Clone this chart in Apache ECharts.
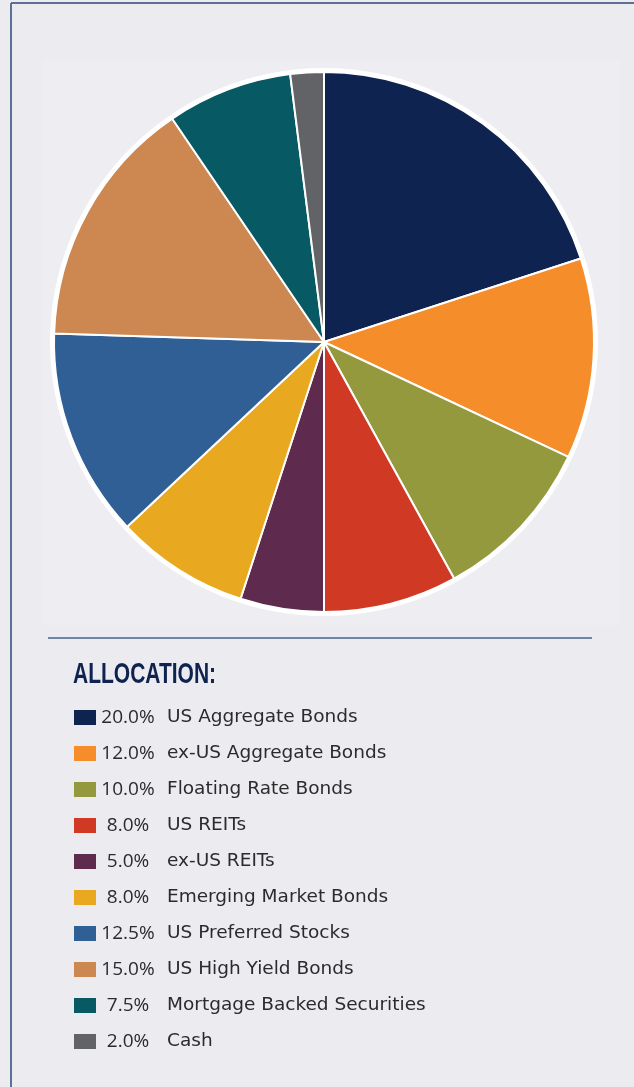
<!DOCTYPE html>
<html>
<head>
<meta charset="utf-8">
<style>
  html, body { margin: 0; padding: 0; background: #ecebf0; }
  #chart { width: 634px; height: 1087px; }
</style>
<script src="https://cdn.jsdelivr.net/npm/echarts@6/dist/echarts.min.js"></script>
</head>
<body>
<div id="chart"></div>
<script>
// Portfolio allocation, clockwise from 12 o'clock
const categories = [
  'US Aggregate Bonds',
  'ex-US Aggregate Bonds',
  'Floating Rate Bonds',
  'US REITs',
  'ex-US REITs',
  'Emerging Market Bonds',
  'US Preferred Stocks',
  'US High Yield Bonds',
  'Mortgage Backed Securities',
  'Cash'
];
const weights = [20.0, 12.0, 10.0, 8.0, 5.0, 8.0, 12.5, 15.0, 7.5, 2.0];
const sliceColors = [
  '#0f2350', '#f58d2a', '#95993e', '#d03a25', '#5e2a4d',
  '#e8a820', '#2f5f95', '#cd8751', '#075a63', '#616367'
];
const titleText = 'ALLOCATION:';

const chart = echarts.init(document.getElementById('chart'), null, { renderer: 'canvas' });

const weightByName = {};
categories.forEach((c, i) => { weightByName[c] = weights[i]; });

const pctFont = '"Open Sans", Lato, sans-serif';
const nameFont = '"DejaVu Sans", "Open Sans", sans-serif';
const textColor = '#2b2b2b';

chart.setOption({
  backgroundColor: '#ecebf0',
  animation: false,
  legend: {
    orient: 'vertical',
    left: 74,
    top: 708,
    height: 400,
    padding: 0,
    itemWidth: 22,
    itemHeight: 15,
    itemGap: 17,
    icon: 'rect',
    itemStyle: { borderWidth: 0 },
    selectedMode: false,
    data: categories,
    formatter: name => '{p|' + weightByName[name].toFixed(1) + '%}{n|' + name + '}',
    textStyle: {
      fontFamily: pctFont,
      fontSize: 19,
      color: textColor,
      lineHeight: 19,
      rich: {
        p: { width: 54, align: 'right', fontFamily: pctFont, fontSize: 19, color: textColor, lineHeight: 19 },
        n: { padding: [0, 0, 0, 12], fontFamily: nameFont, fontSize: 18.5, color: textColor, lineHeight: 19 }
      }
    }
  },
  graphic: [
    // outer frame edges
    { type: 'line', shape: { x1: 11, y1: 3, x2: 634, y2: 3 }, style: { stroke: '#5b7198', lineWidth: 2 } },
    { type: 'line', shape: { x1: 11, y1: 3, x2: 11, y2: 1087 }, style: { stroke: '#5b7198', lineWidth: 2 } },
    // soft panel behind the pie
    { type: 'rect', shape: { x: 42, y: 60, width: 578, height: 565 }, style: { fill: '#eeedf2' }, z: -1 },
    // white rim around the pie
    { type: 'circle', shape: { cx: 324, cy: 342, r: 274 }, style: { fill: '#ffffff' }, z: 0 },
    // divider above the allocation list
    { type: 'line', shape: { x1: 48, y1: 638, x2: 592, y2: 638 }, style: { stroke: '#7084a5', lineWidth: 2 } },
    // section heading, squeezed horizontally to a condensed look
    {
      type: 'text',
      x: 73,
      y: 660,
      scaleX: 0.7,
      style: {
        text: titleText,
        fontFamily: '"Liberation Sans", Arial, sans-serif',
        fontWeight: 'bold',
        fontSize: 30,
        fill: '#0f2350',
        verticalAlign: 'top'
      }
    }
  ],
  series: [{
    type: 'pie',
    center: [324, 342],
    radius: [0, 270],
    startAngle: 90,
    clockwise: true,
    label: { show: false },
    labelLine: { show: false },
    emphasis: { disabled: true },
    itemStyle: { borderColor: '#ffffff', borderWidth: 2 },
    data: categories.map((c, i) => ({
      name: c,
      value: weights[i],
      itemStyle: { color: sliceColors[i] }
    }))
  }]
});
</script>
</body>
</html>
